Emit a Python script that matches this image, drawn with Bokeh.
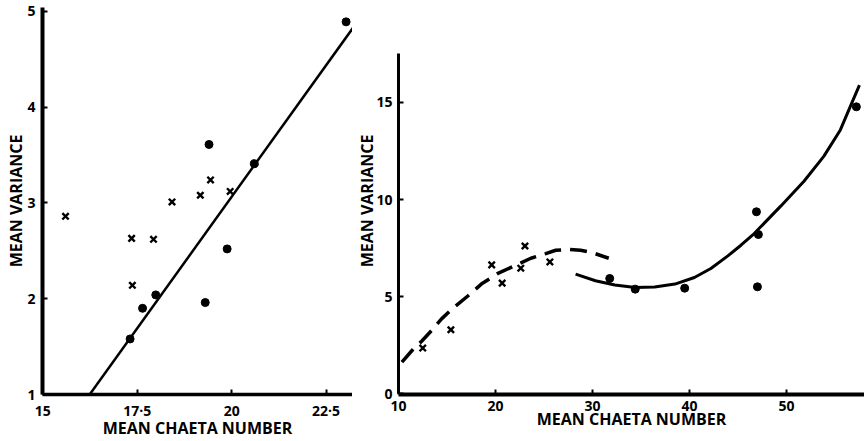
from bokeh.plotting import figure
from bokeh.layouts import row
from bokeh.models import FixedTicker, Range1d
from bokeh.embed import file_html
from bokeh.resources import INLINE

# ---- Left panel data ----
left_cross_x = [15.6, 17.35, 17.37, 17.93, 18.42, 19.17, 19.44, 19.96]
left_cross_y = [2.86, 2.63, 2.14, 2.62, 3.01, 3.08, 3.24, 3.12]
left_dot_x = [17.31, 17.64, 17.99, 19.3, 19.4, 19.88, 20.6, 23.03]
left_dot_y = [1.58, 1.90, 2.04, 1.96, 3.61, 2.52, 3.41, 4.89]
left_line_x = [16.24, 23.4]
left_line_y = [1.0, 4.93]
left_xticks = [15, 17.5, 20, 22.5]
left_xtick_labels = ["15", "17·5", "20", "22·5"]
left_yticks = [1, 2, 3, 4, 5]

# ---- Right panel data ----
right_cross_x = [12.49, 15.39, 19.6, 20.68, 22.6, 23.03, 25.6]
right_cross_y = [2.36, 3.30, 6.64, 5.70, 6.47, 7.61, 6.79]
right_dot_x = [31.77, 34.4, 39.5, 46.9, 47.1, 47.0, 57.2]
right_dot_y = [5.94, 5.39, 5.44, 9.37, 8.2, 5.51, 14.77]
dashed_x = [10.34, 11.54, 12.4, 13.4, 14.43, 15.63, 17.17, 18.53, 20.24, 21.94,
            23.64, 25.18, 26.2, 27.57, 28.76, 29.96, 31.67]
dashed_y = [1.64, 2.32, 2.72, 3.26, 3.86, 4.42, 5.05, 5.65, 6.2, 6.59,
            6.98, 7.22, 7.39, 7.44, 7.39, 7.27, 6.98]
solid_x = [28.25, 30.3, 32.3, 34.4, 36.4, 38.5, 40.5, 42.2, 43.95, 45.3, 46.67,
           49.4, 51.8, 53.84, 55.55, 56.57, 57.52]
solid_y = [6.16, 5.82, 5.6, 5.48, 5.5, 5.65, 5.99, 6.45, 7.1, 7.65, 8.25,
           9.66, 10.94, 12.22, 13.58, 14.78, 15.89]
right_xticks = [10, 20, 30, 40, 50]
right_yticks = [0, 5, 10, 15]

FONT = "Open Sans"


def style(p, xticks, yticks, xlw, ylw, xstand, ystand, overrides=None):
    p.grid.visible = False
    p.outline_line_color = None
    p.background_fill_color = "white"
    p.border_fill_color = "white"
    for ax in (p.xaxis[0], p.yaxis[0]):
        ax.major_tick_in = 5
        ax.major_tick_out = 0
        ax.minor_tick_line_color = None
        ax.major_tick_line_width = 2
        ax.major_tick_line_color = "black"
        ax.axis_line_color = "black"
        ax.major_label_text_font = FONT
        ax.major_label_text_font_style = "bold"
        ax.major_label_text_font_size = "14px"
        ax.major_label_text_color = "black"
        ax.axis_label_text_font = FONT
        ax.axis_label_text_font_style = "bold"
        ax.axis_label_text_font_size = "16px"
        ax.axis_label_text_color = "black"
    p.xaxis[0].axis_line_width = xlw
    p.yaxis[0].axis_line_width = ylw
    p.xaxis[0].ticker = FixedTicker(ticks=xticks)
    p.yaxis[0].ticker = FixedTicker(ticks=yticks)
    if overrides:
        p.xaxis[0].major_label_overrides = overrides
    p.xaxis[0].axis_label = "MEAN CHAETA NUMBER"
    p.yaxis[0].axis_label = "MEAN VARIANCE"
    p.xaxis[0].major_label_standoff = xstand[0]
    p.xaxis[0].axis_label_standoff = xstand[1]
    p.yaxis[0].major_label_standoff = ystand[0]
    p.yaxis[0].axis_label_standoff = ystand[1]


p1 = figure(width=352, height=441, output_backend="svg", toolbar_location=None,
            x_range=Range1d(14.99, 23.2), y_range=Range1d(1.0, 5.04),
            min_border_left=42, min_border_right=0, min_border_top=7, min_border_bottom=45)
style(p1, left_xticks, left_yticks, 3.5, 4, (6, -6), (7, -3),
      {t: l for t, l in zip(left_xticks, left_xtick_labels)})
p1.line(left_line_x, left_line_y, line_color="black", line_width=2.5)
p1.scatter(left_cross_x, left_cross_y, marker="x", size=9, line_width=2.4, line_color="black")
p1.scatter(left_dot_x, left_dot_y, marker="circle", size=8, fill_color="black", line_color="black")

p2 = figure(width=512, height=441, output_backend="svg", toolbar_location=None,
            x_range=Range1d(9.99, 58.04), y_range=Range1d(-0.03, 19.88),
            min_border_left=46, min_border_right=0, min_border_top=7, min_border_bottom=45)
style(p2, right_xticks, right_yticks, 4, 3, (6, -6), (6, -5))
p2.yaxis[0].bounds = (0, 17.5)
p2.line(dashed_x, dashed_y, line_color="black", line_width=3.5, line_dash="17 9")
p2.line(solid_x, solid_y, line_color="black", line_width=3)
p2.scatter(right_cross_x, right_cross_y, marker="x", size=9, line_width=2.4, line_color="black")
p2.scatter(right_dot_x, right_dot_y, marker="circle", size=8, fill_color="black", line_color="black")

layout = row(p1, p2)
open("out.html", "w").write(file_html(layout, INLINE))
